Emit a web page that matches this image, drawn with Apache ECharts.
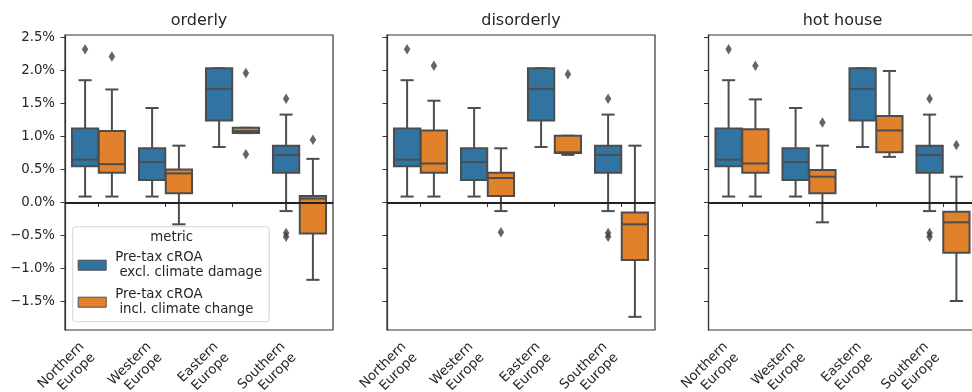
<!DOCTYPE html>
<html>
<head>
<meta charset="utf-8">
<script src="https://cdn.jsdelivr.net/npm/echarts@6/dist/echarts.min.js"></script>
<style>
  html, body { margin: 0; padding: 0; background: #fff; }
  #chart { width: 972px; height: 392px; }
</style>
</head>
<body>
<div id="chart"></div>
<script>
// Regions on the x axis and the three climate scenarios (one panel each)
const regions = ['Northern\nEurope', 'Western\nEurope', 'Eastern\nEurope', 'Southern\nEurope'];
const scenarios = ['orderly', 'disorderly', 'hot house'];
const yTicks = [-1.5, -1.0, -0.5, 0.0, 0.5, 1.0, 1.5, 2.0, 2.5];

const nameExcl = 'Pre-tax cROA\n excl. climate damage';
const nameIncl = 'Pre-tax cROA\n incl. climate change';

// Box statistics in %: [regionIndex, whiskerLow, q1, median, q3, whiskerHigh]
const exclDamage = [
  [0, 0.09, 0.55, 0.65, 1.12, 1.85],
  [1, 0.09, 0.34, 0.61, 0.82, 1.43],
  [2, 0.84, 1.24, 1.72, 2.03, 2.03],
  [3, -0.13, 0.45, 0.72, 0.86, 1.33]
];
// Outliers in %: [regionIndex, value]
const exclDamageOutliers = [[0, 2.32], [3, 1.57], [3, -0.46], [3, -0.52]];

const inclOrderly = [
  [0, 0.09, 0.45, 0.58, 1.08, 1.71],
  [1, -0.33, 0.14, 0.44, 0.50, 0.86],
  [2, 1.05, 1.05, 1.08, 1.13, 1.13],
  [3, -1.17, -0.47, 0.06, 0.10, 0.66]
];
const inclOrderlyOutliers = [[0, 2.21], [2, 1.96], [2, 0.73], [3, 0.95]];

const inclDisorderly = [
  [0, 0.09, 0.45, 0.59, 1.09, 1.54],
  [1, -0.13, 0.10, 0.37, 0.45, 0.82],
  [2, 0.72, 0.75, 0.76, 1.01, 1.01],
  [3, -1.73, -0.87, -0.33, -0.15, 0.86]
];
const inclDisorderlyOutliers = [[0, 2.07], [1, -0.45], [2, 1.94]];

const inclHotHouse = [
  [0, 0.09, 0.45, 0.59, 1.11, 1.56],
  [1, -0.30, 0.14, 0.39, 0.49, 0.86],
  [2, 0.69, 0.76, 1.09, 1.31, 1.99],
  [3, -1.49, -0.76, -0.30, -0.14, 0.39]
];
const inclHotHouseOutliers = [[0, 2.07], [1, 1.21], [3, 0.87]];

const inclByScenario = [inclOrderly, inclDisorderly, inclHotHouse];
const inclOutliersByScenario = [inclOrderlyOutliers, inclDisorderlyOutliers, inclHotHouseOutliers];

// Styling
const FONT = 'DejaVu Sans';
const TEXT = '#262626';
const BLUE = '#3274a1';
const ORANGE = '#e1812c';
const EDGE = '#4d4d4d';
const LW = 2;
const SPINE = '#333333';
const gridLeft = [65, 387, 708.5];
const GRID_TOP = 35, GRID_W = 268, GRID_H = 295;
const Y_MIN = -1.929, Y_MAX = 2.534;
const HUE_SHIFT = GRID_W / regions.length * 0.2;

function pctLabel(v) {
  return (v < 0 ? '\u2212' : '') + Math.abs(v).toFixed(1) + '%';
}

// Seaborn-like box: whiskers with caps, filled box, median line
function boxRenderer(side, fill) {
  return function (params, api) {
    const cat = api.value(0);
    const band = api.size([1, 0])[0];
    const cx = api.coord([cat, 0])[0] + side * band * 0.2;
    const w = band * 0.4 * 0.98;
    const cap = w / 4;
    const y = function (i) { return api.coord([cat, api.value(i)])[1]; };
    const yLo = y(1), yQ1 = y(2), yMed = y(3), yQ3 = y(4), yHi = y(5);
    const lineStyle = { stroke: EDGE, lineWidth: LW };
    return {
      type: 'group',
      children: [
        { type: 'line', shape: { x1: cx, y1: yQ1, x2: cx, y2: yLo }, style: lineStyle },
        { type: 'line', shape: { x1: cx, y1: yQ3, x2: cx, y2: yHi }, style: lineStyle },
        { type: 'line', shape: { x1: cx - cap, y1: yLo, x2: cx + cap, y2: yLo }, style: lineStyle },
        { type: 'line', shape: { x1: cx - cap, y1: yHi, x2: cx + cap, y2: yHi }, style: lineStyle },
        { type: 'rect', shape: { x: cx - w / 2, y: yQ3, width: w, height: Math.max(yQ1 - yQ3, 0.5) },
          style: { fill: fill, stroke: EDGE, lineWidth: LW } },
        { type: 'line', shape: { x1: cx - w / 2, y1: yMed, x2: cx + w / 2, y2: yMed }, style: lineStyle }
      ]
    };
  };
}

const grids = [], xAxes = [], yAxes = [], series = [];

scenarios.forEach(function (scenario, i) {
  grids.push({
    left: gridLeft[i], top: GRID_TOP, width: GRID_W, height: GRID_H,
    outerBoundsMode: 'none', containLabel: false,
    show: true, borderColor: SPINE, borderWidth: 1.2, backgroundColor: 'transparent'
  });
  xAxes.push({
    gridIndex: i, type: 'category', data: regions, boundaryGap: true,
    axisLine: { show: true, lineStyle: { color: SPINE, width: 1.2 } },
    axisTick: { show: true, alignWithLabel: true, length: 4.5, lineStyle: { color: SPINE, width: 1 } },
    axisLabel: {
      rotate: 45, align: 'right', verticalAlign: 'bottom', margin: 31, interval: 0,
      fontFamily: FONT, fontSize: 13.3, lineHeight: 15.5, color: TEXT
    },
    splitLine: { show: false }
  });
  yAxes.push({
    gridIndex: i, type: 'value', min: Y_MIN, max: Y_MAX,
    axisLine: { show: true, lineStyle: { color: SPINE, width: 1.2 } },
    axisTick: { show: true, length: 4.5, customValues: yTicks, lineStyle: { color: SPINE, width: 1 } },
    axisLabel: {
      show: i === 0, customValues: yTicks, formatter: pctLabel, margin: 10,
      fontFamily: FONT, fontSize: 13.3, color: TEXT
    },
    splitLine: { show: false }
  });

  series.push({
    name: nameExcl, type: 'custom', xAxisIndex: i, yAxisIndex: i,
    renderItem: boxRenderer(-1, BLUE), itemStyle: { color: BLUE },
    encode: { x: 0, y: [1, 2, 3, 4, 5] },
    data: exclDamage, z: 2
  });
  series.push({
    name: nameIncl, type: 'custom', xAxisIndex: i, yAxisIndex: i,
    renderItem: boxRenderer(1, ORANGE), itemStyle: { color: ORANGE },
    encode: { x: 0, y: [1, 2, 3, 4, 5] },
    data: inclByScenario[i], z: 2
  });
  series.push({
    name: nameExcl, type: 'scatter', xAxisIndex: i, yAxisIndex: i,
    symbol: 'diamond', symbolSize: [6.5, 10.5], symbolOffset: [-HUE_SHIFT, 0],
    itemStyle: { color: '#3f3f3f' }, data: exclDamageOutliers, z: 3, silent: true
  });
  series.push({
    name: nameIncl, type: 'scatter', xAxisIndex: i, yAxisIndex: i,
    symbol: 'diamond', symbolSize: [6.5, 10.5], symbolOffset: [HUE_SHIFT, 0],
    itemStyle: { color: '#3f3f3f' }, data: inclOutliersByScenario[i], z: 3, silent: true,
    // zero reference line
    markLine: {
      silent: true, symbol: 'none', animation: false,
      label: { show: false },
      lineStyle: { color: '#222222', width: 1.8, type: 'solid' },
      data: [{ yAxis: 0 }]
    }
  });
});

const titles = scenarios.map(function (s, i) {
  return {
    text: s, left: gridLeft[i] + GRID_W / 2, top: 11.2, textAlign: 'center', padding: 0,
    textStyle: { fontFamily: FONT, fontSize: 16, fontWeight: 'normal', color: TEXT, lineHeight: 19 }
  };
});
titles.push({
  text: 'metric', left: 171.7, top: 229.3, textAlign: 'center', padding: 0, z: 10,
  textStyle: { fontFamily: FONT, fontSize: 13.3, fontWeight: 'normal', color: TEXT, lineHeight: 16 }
});

const chart = echarts.init(document.getElementById('chart'), null, { renderer: 'canvas' });
chart.setOption({
  animation: false,
  backgroundColor: '#ffffff',
  title: titles,
  legend: {
    orient: 'vertical', left: 72.7, top: 226.7,
    padding: [24, 7, 5, 5],
    itemWidth: 28, itemHeight: 10, itemGap: 8,
    icon: 'rect',
    backgroundColor: 'rgba(255,255,255,0.8)', borderColor: '#d4d4d4', borderWidth: 1, borderRadius: 3,
    textStyle: { fontFamily: FONT, fontSize: 13.3, lineHeight: 14.5, color: TEXT, padding: [0, 0, 0, 4] },
    selectedMode: false,
    data: [
      { name: nameExcl, itemStyle: { color: BLUE, borderColor: EDGE, borderWidth: 1 } },
      { name: nameIncl, itemStyle: { color: ORANGE, borderColor: EDGE, borderWidth: 1 } }
    ]
  },
  grid: grids,
  xAxis: xAxes,
  yAxis: yAxes,
  series: series
});
</script>
</body>
</html>
